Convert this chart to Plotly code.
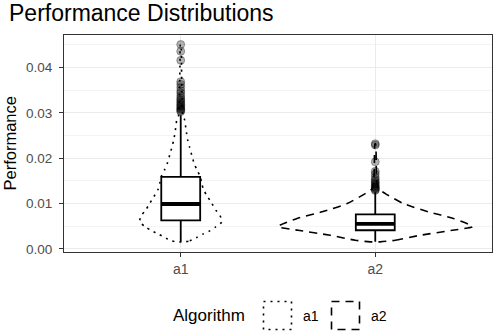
import plotly.graph_objects as go

# ---------------- data ----------------
categories = ["a1", "a2"]
cat_pos = [1, 2]

# violin outlines: y levels and relative density (1.0 = widest violin)
a1_violin_y = [0.00154, 0.00176, 0.0025, 0.00324, 0.00397, 0.00485, 0.00595, 0.00743,
               0.00853, 0.0100, 0.01147, 0.01294, 0.0144, 0.0159, 0.0175, 0.0188,
               0.0207, 0.0225, 0.0240, 0.0262, 0.0284, 0.0295, 0.032, 0.036, 0.040, 0.0451]
a1_violin_d = [0.041, 0.093, 0.165, 0.227, 0.299, 0.361, 0.423, 0.402,
               0.361, 0.320, 0.278, 0.237, 0.216, 0.201, 0.165, 0.139,
               0.113, 0.090, 0.072, 0.055, 0.041, 0.021, 0.015, 0.012, 0.008, 0.003]

a2_violin_y = [0.00154, 0.0019, 0.0030, 0.0041, 0.00485, 0.00523, 0.0067, 0.00816,
               0.0100, 0.0122, 0.0133, 0.015, 0.018, 0.0232]
a2_violin_d = [0.052, 0.206, 0.464, 0.794, 1.0, 0.979, 0.804, 0.546,
               0.289, 0.103, 0.031, 0.015, 0.010, 0.003]

# box statistics
box_q1 = [0.0063, 0.0041]
box_median = [0.0099, 0.0055]
box_q3 = [0.0159, 0.0076]
box_low = [0.00154, 0.00154]
box_high = [0.0295, 0.0125]

# outliers
a1_outliers = [0.0451, 0.0436, 0.0416, 0.0369, 0.0363, 0.0356, 0.0349, 0.0344, 0.0338,
               0.0333, 0.0329, 0.0326, 0.0322, 0.0319, 0.0316, 0.0313, 0.0310, 0.0308,
               0.0305, 0.0303]
a2_outliers = [0.0232, 0.0229, 0.0192, 0.0171, 0.0165, 0.0158, 0.0153, 0.0149, 0.0146,
               0.0143, 0.0140, 0.0137, 0.0135, 0.0133, 0.0131, 0.0129]

y_ticks = [0.00, 0.01, 0.02, 0.03, 0.04]

# ---------------- style ----------------
W, H = 497, 332
ML, MR, MT, MB = 64, 5, 35, 80
FONT = "Liberation Sans, Arial, sans-serif"
VIOLIN_HALF = 0.5      # half-width (x units) of density 1.0
BOX_W = 0.2
dashes = ["2px,5px", "8px,6px"]

fig = go.Figure()

violins = [(a1_violin_y, a1_violin_d), (a2_violin_y, a2_violin_d)]
for pos, (vy, vd), dash in zip(cat_pos, violins, dashes):
    xs = [pos + d * VIOLIN_HALF for d in vd] + [pos - d * VIOLIN_HALF for d in reversed(vd)]
    ys = list(vy) + list(reversed(vy))
    xs.append(xs[0]); ys.append(ys[0])
    fig.add_trace(go.Scatter(
        x=xs, y=ys, mode="lines",
        line=dict(color="black", width=1.6, dash=dash, shape="spline", smoothing=0.6),
        showlegend=False, hoverinfo="skip"))

for i, pos in enumerate(cat_pos):
    fig.add_trace(go.Box(
        x=[pos], q1=[box_q1[i]], median=[box_median[i]], q3=[box_q3[i]],
        lowerfence=[box_low[i]], upperfence=[box_high[i]],
        boxpoints=False, width=BOX_W, whiskerwidth=0,
        fillcolor="white", line=dict(color="black", width=1.8),
        showlegend=False, hoverinfo="skip"))
    fig.add_trace(go.Scatter(
        x=[pos - BOX_W / 2, pos + BOX_W / 2], y=[box_median[i], box_median[i]],
        mode="lines", line=dict(color="black", width=3.8),
        showlegend=False, hoverinfo="skip"))

for pos, outs in zip(cat_pos, [a1_outliers, a2_outliers]):
    fig.add_trace(go.Scatter(
        x=[pos] * len(outs), y=outs, mode="markers",
        marker=dict(size=8, color="rgba(0,0,0,0.3)",
                    line=dict(color="rgba(0,0,0,0.3)", width=1)),
        showlegend=False, hoverinfo="skip"))

plot_w = W - ML - MR
plot_h = H - MT - MB


def px_x(px):
    return (px - ML) / plot_w


def px_y(py):
    return (H - MB - py) / plot_h


# manual legend
shapes = []
annotations = []
annotations.append(dict(text="Algorithm", x=px_x(171), y=px_y(315), xref="paper", yref="paper",
                        xanchor="left", yanchor="middle", showarrow=False,
                        font=dict(family=FONT, size=17, color="black")))
key_lefts = [263.5, 331.5]
for cat, kl, dash in zip(categories, key_lefts, dashes):
    shapes.append(dict(type="rect", xref="paper", yref="paper",
                       x0=px_x(kl), x1=px_x(kl + 28), y0=px_y(301.5), y1=px_y(329.5),
                       line=dict(color="black", width=1.6, dash=dash), fillcolor="white"))
    annotations.append(dict(text=cat, x=px_x(kl + 37), y=px_y(316), xref="paper", yref="paper",
                            xanchor="left", yanchor="middle", showarrow=False,
                            font=dict(family=FONT, size=14, color="black")))

annotations.append(dict(text="Performance", x=px_x(9), y=0.5, xref="paper", yref="paper",
                        textangle=-90, xanchor="center", yanchor="middle", showarrow=False,
                        font=dict(family=FONT, size=16.5, color="black")))
annotations.append(dict(text="Performance Distributions", x=px_x(7), y=px_y(12.5),
                        xref="paper", yref="paper", xanchor="left", yanchor="middle",
                        showarrow=False, font=dict(family=FONT, size=23, color="black")))

fig.update_layout(
    width=W, height=H,
    margin=dict(l=ML, r=MR, t=MT, b=MB),
    paper_bgcolor="white", plot_bgcolor="white",
    boxmode="overlay",
    shapes=shapes, annotations=annotations,
    xaxis=dict(range=[0.4, 2.6], tickvals=cat_pos, ticktext=categories,
               showgrid=True, gridcolor="#EBEBEB", gridwidth=1.1,
               zeroline=False, showline=True, mirror=True, linecolor="#333333", linewidth=1,
               ticks="outside", ticklen=4, tickcolor="#333333", tickwidth=1,
               tickfont=dict(family=FONT, size=14, color="#4D4D4D")),
    yaxis=dict(range=[-0.0007, 0.0472], tickvals=y_ticks,
               ticktext=[f"{v:.2f}" for v in y_ticks],
               showgrid=True, gridcolor="#EBEBEB", gridwidth=1.1,
               minor=dict(dtick=0.005, tick0=0, showgrid=True, gridcolor="#F4F4F4", gridwidth=0.6),
               zeroline=False, showline=True, mirror=True, linecolor="#333333", linewidth=1,
               ticks="outside", ticklen=4, tickcolor="#333333", tickwidth=1,
               ticklabelstandoff=4,
               tickfont=dict(family=FONT, size=13.5, color="#4D4D4D")),
)

fig.write_html("out.html", config={"displayModeBar": False},
               post_script="document.body.style.margin='0px';")
